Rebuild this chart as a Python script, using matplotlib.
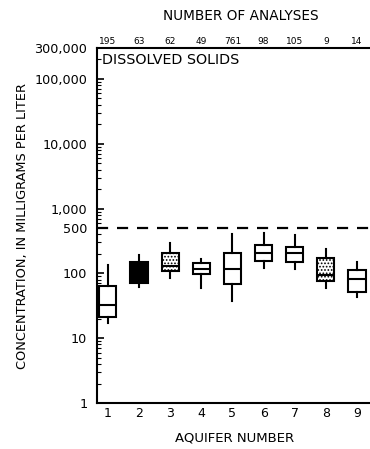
import matplotlib
matplotlib.use("Agg")
import matplotlib.pyplot as plt
from matplotlib.ticker import FixedLocator, LogLocator, NullFormatter
import numpy as np

plt.rcParams['font.family'] = ['DejaVu Sans']
plt.rcParams['hatch.linewidth'] = 0.8

aquifers = [1, 2, 3, 4, 5, 6, 7, 8, 9]
counts = [195, 63, 62, 49, 761, 98, 105, 9, 14]
whislo = [17, 61, 84, 59, 38, 123, 119, 59, 44]
q1 = [21, 70, 108, 97, 68, 153, 148, 75, 51]
med = [33, 100, 128, 115, 115, 210, 203, 93, 81]
q3 = [63, 148, 203, 143, 210, 279, 260, 170, 111]
whishi = [133, 189, 290, 164, 412, 427, 398, 234, 148]
fills = ['white', 'black', 'stipple', 'white', 'white', 'white', 'white', 'stipple', 'white']
limit = 500

ytick_vals = [1, 10, 100, 500, 1000, 10000, 100000, 300000]
ytick_labels = ['1', '10', '100', '500', '1,000', '10,000', '100,000', '300,000']

fig = plt.figure(figsize=(3.7, 4.49), dpi=100)
ax = fig.add_axes([0.262, 0.1024, 0.745, 0.7906])

stats = []
for i in range(len(aquifers)):
    stats.append(dict(whislo=whislo[i], q1=q1[i], med=med[i], q3=q3[i], whishi=whishi[i], fliers=[]))

bp = ax.bxp(stats, positions=aquifers, widths=0.55, showcaps=False, showfliers=False,
            patch_artist=True,
            boxprops=dict(linewidth=1.5, edgecolor='black'),
            medianprops=dict(color='black', linewidth=1.5),
            whiskerprops=dict(color='black', linewidth=1.5))
for patch, f in zip(bp['boxes'], fills):
    if f == 'black':
        patch.set_facecolor('black')
    elif f == 'stipple':
        patch.set_facecolor('white')
        patch.set_hatch('.....')
    else:
        patch.set_facecolor('white')

ax.axhline(limit, color='black', linestyle=(0, (5, 4)), linewidth=1.6)

ax.set_yscale('log')
ax.set_ylim(1, 300000)
ax.set_xlim(0.65, 9.5)
ax.yaxis.set_major_locator(FixedLocator(ytick_vals))
ax.set_yticklabels(ytick_labels)
ax.yaxis.set_minor_locator(LogLocator(base=10, subs=np.arange(2, 10)))
ax.yaxis.set_minor_formatter(NullFormatter())
ax.tick_params(axis='y', which='major', direction='in', length=5, width=1.2, labelsize=9.2, pad=7)
ax.tick_params(axis='y', which='minor', direction='in', length=3, width=0.8)
ax.set_xticks(aquifers)
ax.set_xticklabels([str(a) for a in aquifers])
ax.tick_params(axis='x', length=0, labelsize=9, pad=3)

for s in ['left', 'bottom', 'top']:
    ax.spines[s].set_linewidth(1.5)
ax.spines['right'].set_visible(False)

for x, c in zip(aquifers, counts):
    ax.text(x, 1.006, str(c), transform=ax.get_xaxis_transform(), ha='center', va='bottom', fontsize=6.5)

ax.text(0.02, 0.985, 'DISSOLVED SOLIDS', transform=ax.transAxes, ha='left', va='top', fontsize=10.3)
fig.text(0.65, 0.965, 'NUMBER OF ANALYSES', ha='center', va='center', fontsize=9.8)
ax.set_xlabel('AQUIFER NUMBER', fontsize=9.5, labelpad=8)
ax.set_ylabel('CONCENTRATION, IN MILLIGRAMS PER LITER', fontsize=9.3, labelpad=4)

fig.savefig('out.png', dpi=100)
